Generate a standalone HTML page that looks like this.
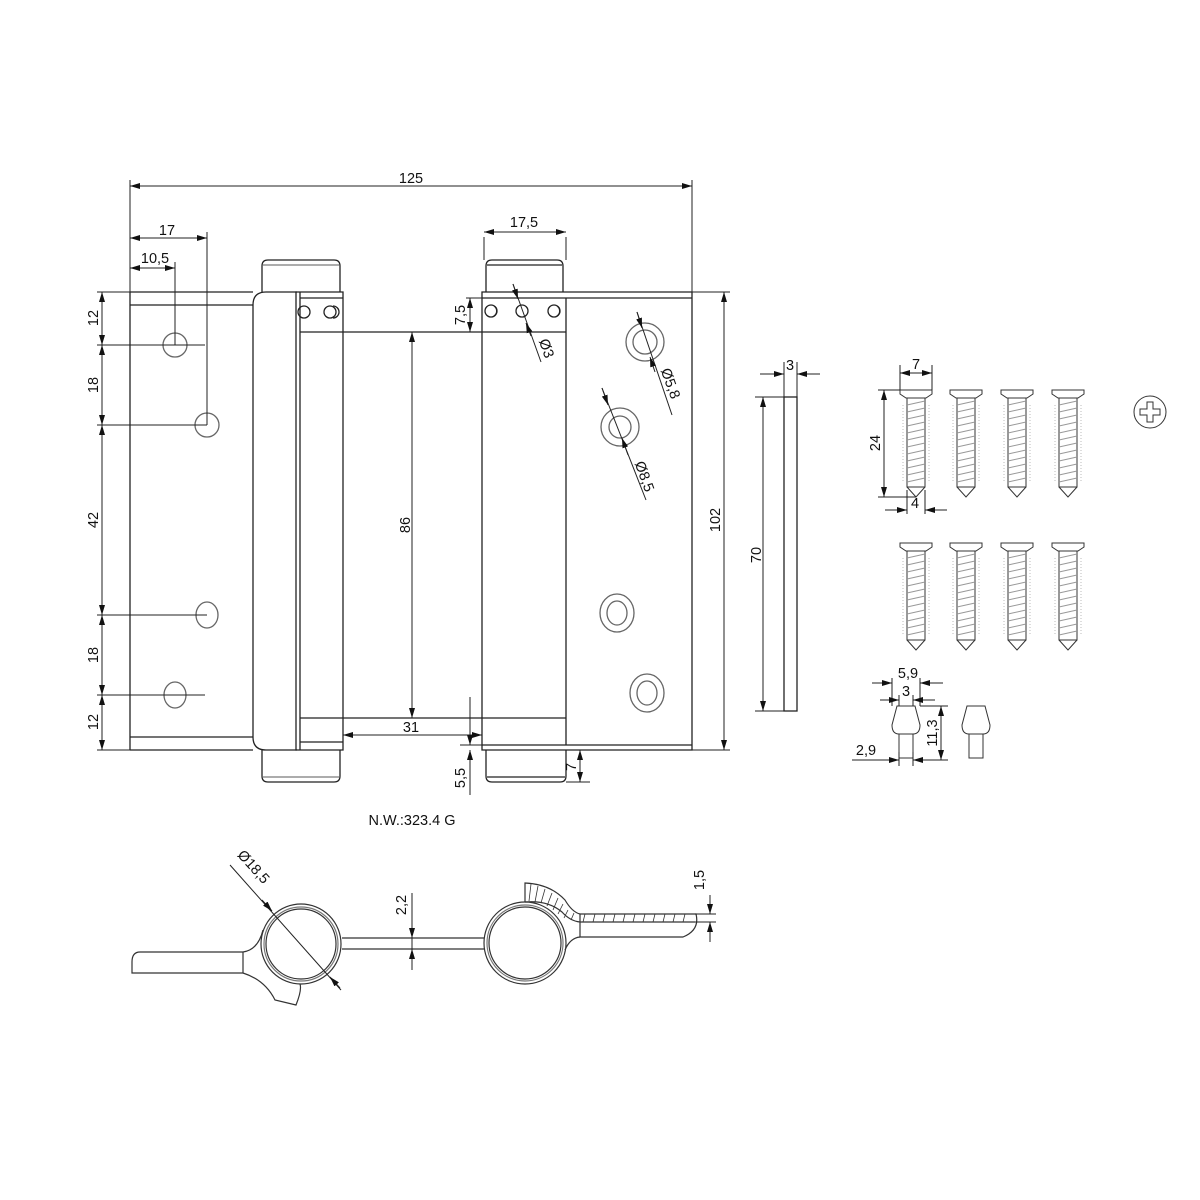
<!DOCTYPE html>
<html><head><meta charset="utf-8"><style>
html,body{margin:0;padding:0;background:#fff}
svg{display:block}
text{font-family:"Liberation Sans",sans-serif;font-size:14.5px;fill:#111}
</style></head><body>
<svg width="1200" height="1200" viewBox="0 0 1200 1200" xmlns="http://www.w3.org/2000/svg">
<defs>
<marker id="a" viewBox="0 0 10 6" refX="10" refY="3" markerWidth="10" markerHeight="6" orient="auto-start-reverse" markerUnits="userSpaceOnUse"><path d="M0,0L10,3L0,6z" fill="#111"/></marker>
</defs>
<g stroke="#222" stroke-width="1.3" fill="none">
<path d="M130,292H253M130,305H253M130,737H253M130,750H253M130,292V750"/>
<path d="M297,292H266Q253,292 253,305V737Q253,750 266,750H297"/>
<path d="M262,292V266Q262,260 268,260H334Q340,260 340,266V292"/>
<path d="M262,750V776Q262,782 268,782H334Q340,782 340,776V750"/>
<path d="M263,777H339M263,265H339" stroke-width="0.8"/>
<path d="M296,292H343V750H296ZM300,292V750M300,298H343M300,332H482M300,718H566M300,742H343"/>
<circle cx="304" cy="312" r="6"/><circle cx="330" cy="312" r="6"/><path d="M333,306A6,6 0 0 1 333,318" />
<path d="M482,292H692V750H482ZM482,298H692M482,332H566M566,298V745M482,745H692"/>
<path d="M486,292V266Q486,260 492,260H557Q563,260 563,266V292M487,265H562"/>
<path d="M486,750V776Q486,782 492,782H560Q566,782 566,776V750M487,777H565"/>
<circle cx="491" cy="311" r="6"/><circle cx="522" cy="311" r="6"/><circle cx="554" cy="311" r="6"/>
<path d="M494,306A6,6 0 0 1 494,316M557,306A6,6 0 0 1 557,316"/>
<g stroke="#666"><circle cx="175" cy="345" r="12"/><circle cx="207" cy="425" r="12"/><ellipse cx="207" cy="615" rx="11" ry="13"/><ellipse cx="175" cy="695" rx="11" ry="13"/>
<circle cx="645" cy="342" r="19"/><circle cx="645" cy="342" r="12"/>
<circle cx="620" cy="427" r="19"/><circle cx="620" cy="427" r="11"/>
<ellipse cx="617" cy="613" rx="17" ry="19"/><ellipse cx="617" cy="613" rx="10" ry="12"/>
<ellipse cx="647" cy="693" rx="17" ry="19"/><ellipse cx="647" cy="693" rx="10" ry="12"/></g>
<rect x="784" y="397" width="13" height="314"/>
</g>
<g stroke="#222" stroke-width="1" fill="none">
<path d="M130,180V292M692,180V292"/>
<path d="M130,186H692" marker-start="url(#a)" marker-end="url(#a)"/>
<path d="M130,232V292M207,232V425"/>
<path d="M130,238H207" marker-start="url(#a)" marker-end="url(#a)"/>
<path d="M175,262V345"/>
<path d="M130,268H175" marker-start="url(#a)" marker-end="url(#a)"/>
<path d="M97,292H130M97,345H205M97,425H207M97,615H207M97,695H205M97,750H130"/>
<path d="M102,292V345" marker-start="url(#a)" marker-end="url(#a)"/>
<path d="M102,345V425" marker-start="url(#a)" marker-end="url(#a)"/>
<path d="M102,425V615" marker-start="url(#a)" marker-end="url(#a)"/>
<path d="M102,615V695" marker-start="url(#a)" marker-end="url(#a)"/>
<path d="M102,695V750" marker-start="url(#a)" marker-end="url(#a)"/>
<path d="M412,332V718" marker-start="url(#a)" marker-end="url(#a)"/>
<path d="M466,298H482"/>
<path d="M470,298V332" marker-start="url(#a)" marker-end="url(#a)"/>
<path d="M484,237V260M566,237V260"/>
<path d="M484,232H566" marker-start="url(#a)" marker-end="url(#a)"/>
<path d="M513,284L541,362"/><path d="M513,284L518,299" marker-end="url(#a)"/><path d="M531,336L526,323" marker-end="url(#a)"/>
<path d="M637,312L672,415"/><path d="M637,312L642,328" marker-end="url(#a)"/><path d="M655,372L650,357" marker-end="url(#a)"/>
<path d="M602,388L646,500"/><path d="M602,388L608,405" marker-end="url(#a)"/><path d="M628,455L622,438" marker-end="url(#a)"/>
<path d="M692,292H730M692,750H730"/>
<path d="M724,292V750" marker-start="url(#a)" marker-end="url(#a)"/>
<path d="M343,735H482" marker-start="url(#a)" marker-end="url(#a)"/>
<path d="M470,697V745M470,750V795M460,745H482"/>
<path d="M470,718V745" marker-end="url(#a)"/><path d="M470,775V750" marker-end="url(#a)"/>
<path d="M566,782H590"/>
<path d="M580,750V782" marker-start="url(#a)" marker-end="url(#a)"/>
<path d="M784,362V397M797,362V397"/>
<path d="M760,374H784" marker-end="url(#a)"/><path d="M820,374H797" marker-end="url(#a)"/>
<path d="M755,397H784M755,711H784"/>
<path d="M763,397V711" marker-start="url(#a)" marker-end="url(#a)"/>
</g>
<g>
<text x="411" y="183" text-anchor="middle">125</text>
<text x="167" y="235" text-anchor="middle">17</text>
<text x="155" y="263" text-anchor="middle">10,5</text>
<text x="524" y="227" text-anchor="middle">17,5</text>
<text transform="translate(98,318) rotate(-90)" text-anchor="middle">12</text>
<text transform="translate(98,385) rotate(-90)" text-anchor="middle">18</text>
<text transform="translate(98,520) rotate(-90)" text-anchor="middle">42</text>
<text transform="translate(98,655) rotate(-90)" text-anchor="middle">18</text>
<text transform="translate(98,722) rotate(-90)" text-anchor="middle">12</text>
<text transform="translate(410,525) rotate(-90)" text-anchor="middle">86</text>
<text transform="translate(465,315) rotate(-90)" text-anchor="middle">7,5</text>
<text transform="translate(542,350) rotate(70)" text-anchor="middle">Ø3</text>
<text transform="translate(666,385) rotate(70)" text-anchor="middle">Ø5,8</text>
<text transform="translate(640,478) rotate(70)" text-anchor="middle">Ø8,5</text>
<text transform="translate(720,520) rotate(-90)" text-anchor="middle">102</text>
<text x="411" y="732" text-anchor="middle">31</text>
<text transform="translate(465,778) rotate(-90)" text-anchor="middle">5,5</text>
<text transform="translate(576,767) rotate(-90)" text-anchor="middle">7</text>
<text x="412" y="825" text-anchor="middle">N.W.:323.4 G</text>
<text x="790" y="370" text-anchor="middle">3</text>
<text transform="translate(761,555) rotate(-90)" text-anchor="middle">70</text>
</g>
<g stroke="#333" stroke-width="1" fill="none">
<g id="s">
<path d="M900,390H932V394L926,398H906L900,394Z"/>
<path d="M907,398V487H925V398M907,487L916,497L925,487"/>
<path d="M907,405L925,401M907,412L925,408M907,419L925,415M907,426L925,422M907,433L925,429M907,440L925,436M907,447L925,443M907,454L925,450M907,461L925,457M907,468L925,464M907,475L925,471M907,482L925,478" stroke="#999"/>
<path d="M903,405V482M929,405V482" stroke="#bbb" stroke-dasharray="1 2"/>
</g>
<use href="#s" x="50"/><use href="#s" x="101"/><use href="#s" x="152"/>
<use href="#s" y="153"/><use href="#s" x="50" y="153"/><use href="#s" x="101" y="153"/><use href="#s" x="152" y="153"/>
<circle cx="1150" cy="412" r="16"/>
<path d="M1147,402H1153V409H1160V415H1153V422H1147V415H1140V409H1147Z"/>
<path d="M897,706H915L920,725Q920,734 913,734H899Q892,734 892,725Z"/>
<path d="M899,734V758H913V734"/>
<path d="M967,706H985L990,725Q990,734 983,734H969Q962,734 962,725Z"/>
<path d="M969,734V758H983V734"/>
</g>
<g stroke="#222" stroke-width="1" fill="none">
<path d="M900,365V390M932,365V390"/>
<path d="M900,373H932" marker-start="url(#a)" marker-end="url(#a)"/>
<path d="M878,390H900M878,497H916"/>
<path d="M884,390V497" marker-start="url(#a)" marker-end="url(#a)"/>
<path d="M907,490V514M925,490V514"/>
<path d="M885,510H907" marker-end="url(#a)"/><path d="M947,510H925" marker-end="url(#a)"/>
<path d="M892,678V706M920,678V706"/>
<path d="M872,683H892" marker-end="url(#a)"/><path d="M943,683H920" marker-end="url(#a)"/>
<path d="M899,695V706M913,695V706"/>
<path d="M880,700H899" marker-end="url(#a)"/><path d="M935,700H913" marker-end="url(#a)"/>
<path d="M920,706H948M915,760H948"/>
<path d="M941,706V760" marker-start="url(#a)" marker-end="url(#a)"/>
<path d="M899,752V766M913,752V766"/>
<path d="M852,760H899" marker-end="url(#a)"/><path d="M925,760H913" marker-end="url(#a)"/>
</g>
<text x="916" y="369" text-anchor="middle">7</text>
<text transform="translate(880,443) rotate(-90)" text-anchor="middle">24</text>
<text x="915" y="508" text-anchor="middle">4</text>
<text x="908" y="678" text-anchor="middle">5,9</text>
<text x="906" y="696" text-anchor="middle">3</text>
<text transform="translate(937,733) rotate(-90)" text-anchor="middle">11,3</text>
<text x="866" y="755" text-anchor="middle">2,9</text>
<g stroke="#333" stroke-width="1.2" fill="none">
<circle cx="301" cy="944" r="40"/><circle cx="301" cy="944" r="37" stroke="#777"/><circle cx="301" cy="944" r="35"/>
<circle cx="525" cy="943" r="41"/><circle cx="525" cy="943" r="38" stroke="#777"/><circle cx="525" cy="943" r="36"/>
<path d="M342,938H484M342,949H484"/>
<path d="M243,952H140Q132,952 132,962V973H243V952"/>
<path d="M243,952Q258,950 263,930M243,973Q265,980 275,1000L296,1005Q302,990 300,984"/>
<path d="M580,914H696Q700,930 683,937H580V914M580,922H695"/>
<path d="M580,937Q570,938 565,950"/>
<path d="M525,902V883Q550,884 565,900Q572,912 580,914"/>
<path d="M525,902Q548,900 562,912Q570,921 580,922"/>
<path d="M531,884L529,901M538,886L535,902M545,889L541,903M552,893L547,906M558,898L553,910M563,904L558,914M568,910L564,918M574,913L571,920M585,914L583,922M595,914L593,922M605,914L603,922M615,914L613,922M625,914L623,922M635,914L633,922M645,914L643,922M655,914L653,922M665,914L663,922M675,914L673,922M685,914L683,922" stroke-width="0.8"/>
</g>
<g stroke="#222" stroke-width="1" fill="none">
<path d="M230,865L341,990"/>
<path d="M262,900L272,911" marker-end="url(#a)"/><path d="M340,988L330,977" marker-end="url(#a)"/>
<path d="M412,893V970"/>
<path d="M412,920V938" marker-end="url(#a)"/><path d="M412,965V949" marker-end="url(#a)"/>
<path d="M695,914H716M695,922H716"/>
<path d="M710,895V914" marker-end="url(#a)"/><path d="M710,942V922" marker-end="url(#a)"/>
</g>
<text transform="translate(250,870) rotate(48)" text-anchor="middle">Ø18,5</text>
<text transform="translate(406,905) rotate(-90)" text-anchor="middle">2,2</text>
<text transform="translate(704,880) rotate(-90)" text-anchor="middle">1,5</text>
</svg>
</body></html>
